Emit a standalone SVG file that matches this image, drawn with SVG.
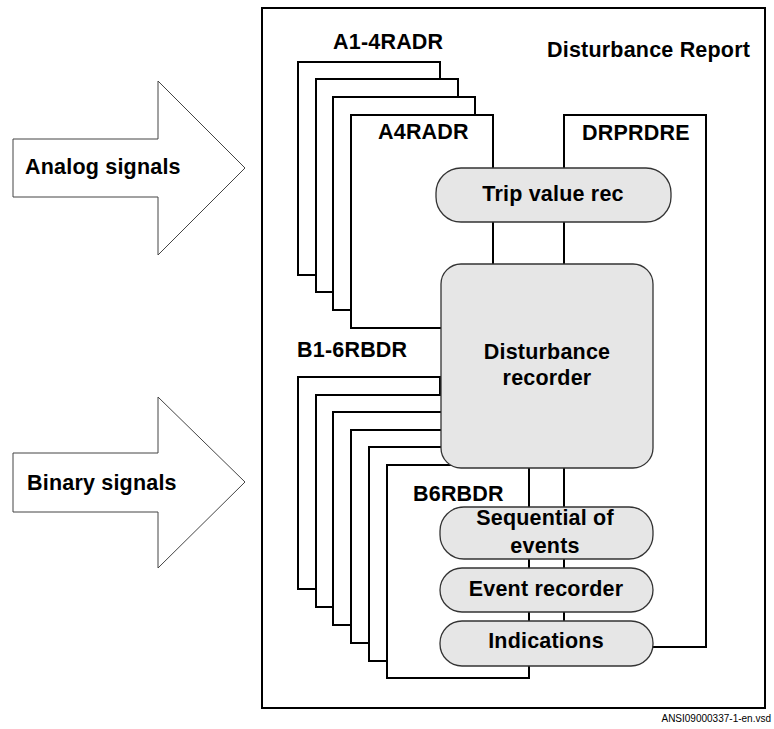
<svg xmlns="http://www.w3.org/2000/svg" width="774" height="729" viewBox="0 0 774 729">
<style>
.frame{fill:#fff;stroke:#000;stroke-width:2}
.page{fill:#fff;stroke:#000;stroke-width:2}
.pill{fill:#e6e6e6;stroke:#333;stroke-width:1.3}
.arrow{fill:#fff;stroke:#444;stroke-width:1}
.t{font-family:"Liberation Sans",Arial,sans-serif;font-weight:bold;font-size:21.5px;letter-spacing:0.2px;fill:#000}
.m{text-anchor:middle}
.foot{font-family:"Liberation Sans",Arial,sans-serif;font-size:10px;fill:#000;text-anchor:end}
</style>
<rect width="774" height="729" fill="#fff"/>
<g id="disturbance-report">
<rect class="frame" x="262" y="8" width="503" height="700"/>
<text class="t" x="547" y="57">Disturbance Report</text>
</g>
<g id="analog-signals">
<polygon class="arrow" points="13,139 158,139 158,81 245,168 158,255 158,197 13,197"/>
<text class="t" x="25" y="174">Analog signals</text>
</g>
<g id="binary-signals">
<polygon class="arrow" points="13,453 158,453 158,397 245,482 158,568 158,512 13,512"/>
<text class="t" x="27" y="490">Binary signals</text>
</g>
<g id="A1-4RADR">
<text class="t" x="333" y="49">A1-4RADR</text>
<rect class="page" x="298" y="62" width="142" height="213"/>
<rect class="page" x="316" y="79" width="142" height="213"/>
<rect class="page" x="333" y="97" width="142" height="213"/>
</g>
<g id="A4RADR">
<rect class="page" x="351" y="115" width="142" height="213"/>
<text class="t" x="378" y="139">A4RADR</text>
</g>
<g id="DRPRDRE">
<rect class="page" x="564" y="115" width="142" height="532"/>
<text class="t" x="582" y="140">DRPRDRE</text>
</g>
<g id="B1-6RBDR">
<text class="t" x="297" y="357">B1-6RBDR</text>
<rect class="page" x="298" y="377" width="142" height="212"/>
<rect class="page" x="316" y="395" width="142" height="212"/>
<rect class="page" x="333" y="412" width="142" height="213"/>
<rect class="page" x="351" y="430" width="142" height="213"/>
<rect class="page" x="369" y="447" width="142" height="214"/>
</g>
<g id="B6RBDR">
<rect class="page" x="387" y="465" width="142" height="213"/>
<text class="t" x="413" y="501">B6RBDR</text>
</g>
<g id="connectors"></g>
<g id="disturbance-recorder">
<rect class="pill" x="441" y="264" width="212" height="204" rx="20" ry="20"/>
<text class="t m" x="547" y="359">Disturbance</text>
<text class="t m" x="547" y="385">recorder</text>
</g>
<g id="trip-value-rec">
<rect class="pill" x="436" y="168" width="235" height="54" rx="25" ry="25"/>
<text class="t m" x="553" y="201">Trip value rec</text>
</g>
<g id="sequential-of-events">
<rect class="pill" x="440" y="507" width="213" height="52" rx="24" ry="24"/>
<text class="t m" x="545" y="525">Sequential of</text>
<text class="t m" x="545" y="553">events</text>
</g>
<g id="event-recorder">
<rect class="pill" x="440" y="568" width="213" height="44" rx="22" ry="22"/>
<text class="t m" x="546" y="596">Event recorder</text>
</g>
<g id="indications">
<rect class="pill" x="440" y="621" width="213" height="45" rx="22" ry="22"/>
<text class="t m" x="546" y="648">Indications</text>
</g>
<text class="foot" x="771" y="722">ANSI09000337-1-en.vsd</text>
</svg>
